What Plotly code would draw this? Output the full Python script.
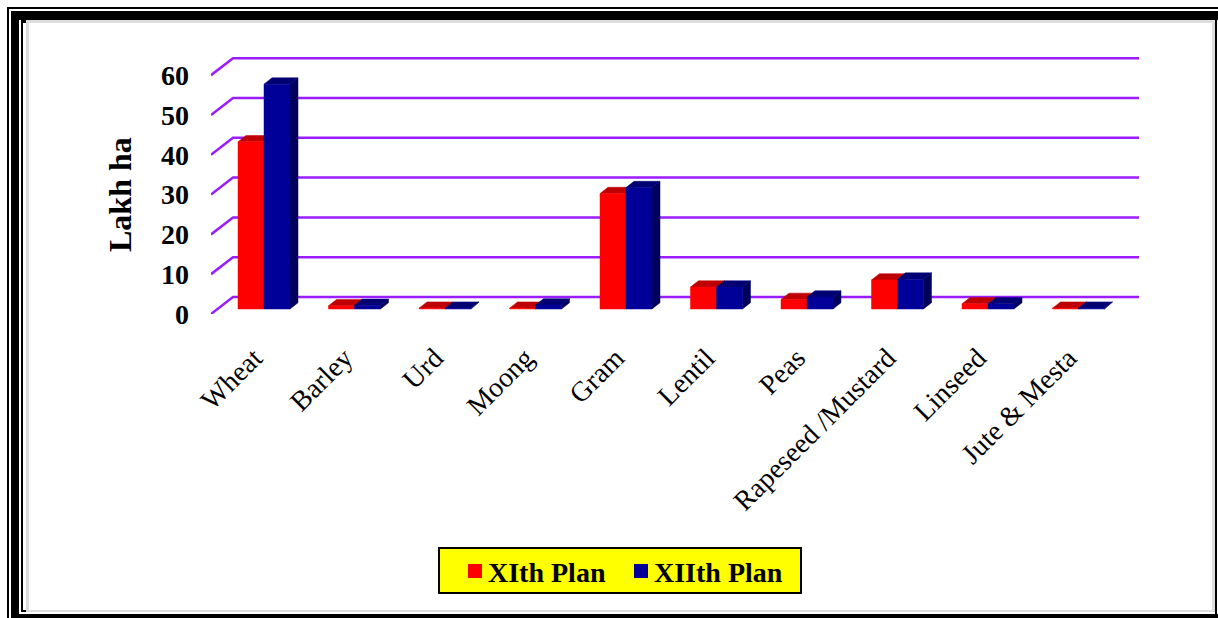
import plotly.graph_objects as go

categories = ["Wheat", "Barley", "Urd", "Moong", "Gram", "Lentil", "Peas",
              "Rapeseed /Mustard", "Linseed", "Jute & Mesta"]
xi_plan = [42, 0.8, 0.2, 0.2, 29, 5.5, 2.4, 7.3, 1.3, 0.2]
xii_plan = [56.5, 0.9, 0.2, 1.0, 30.5, 5.5, 3.0, 7.5, 1.3, 0.2]
y_ticks = [0, 10, 20, 30, 40, 50, 60]

W, H = 1218, 618
PX_PER_CAT = 90.5
PX_PER_UNIT = 3.98
AX_LEFT, AX_RIGHT, AX_TOP, AX_BOTTOM = 211, 1139, 50, 314

# Offsets of the pseudo-3D box, expressed in axis units
BAR_W = 26 / PX_PER_CAT
BAR_BASE = 5 / PX_PER_UNIT
DEPTH_X = 8 / PX_PER_CAT
DEPTH_Y = 6.3 / PX_PER_UNIT
WALL_X = 22 / PX_PER_CAT
WALL_Y = 17 / PX_PER_UNIT
LABEL_SHIFT = 10 / PX_PER_CAT

x_min = (AX_LEFT - 264) / PX_PER_CAT
x_max = (AX_RIGHT - 264) / PX_PER_CAT
y_max = (AX_BOTTOM - AX_TOP) / PX_PER_UNIT


def faces(values, offset):
    front_x, front_y, top_x, top_y, side_x, side_y = [], [], [], [], [], []
    for i, v in enumerate(values):
        l, r = i + offset, i + offset + BAR_W
        b, t = BAR_BASE, BAR_BASE + v
        front_x += [l, r, r, l, l, None]
        front_y += [b, b, t, t, b, None]
        top_x += [l, r, r + DEPTH_X, l + DEPTH_X, l, None]
        top_y += [t, t, t + DEPTH_Y, t + DEPTH_Y, t, None]
        side_x += [r, r + DEPTH_X, r + DEPTH_X, r, r, None]
        side_y += [b, b + DEPTH_Y, t + DEPTH_Y, t, b, None]
    return (front_x, front_y), (top_x, top_y), (side_x, side_y)


def polygon(xy, color, name):
    return go.Scatter(x=xy[0], y=xy[1], mode="lines", fill="toself", fillcolor=color,
                      line=dict(color=color, width=0.5), name=name,
                      showlegend=False, hoverinfo="skip")


fig = go.Figure()

# Back-wall grid lines with their slanted lead-ins
grid_x, grid_y = [], []
for v in y_ticks:
    grid_x += [x_min, x_min + WALL_X, x_max, None]
    grid_y += [v, v + WALL_Y, v + WALL_Y, None]
fig.add_trace(go.Scatter(x=grid_x, y=grid_y, mode="lines", showlegend=False, hoverinfo="skip",
                         line=dict(color="#9A1CFF", width=2.5)))

series = [
    ("XIth Plan", xi_plan, -BAR_W, "#FF0000", "#BE0000", "#990000"),
    ("XIIth Plan", xii_plan, 0, "#000099", "#000073", "#00005C"),
]
for name, values, offset, c_front, c_top, c_side in series:
    front, top, side = faces(values, offset)
    fig.add_trace(polygon(side, c_side, name))
    fig.add_trace(polygon(top, c_top, name))
    fig.add_trace(polygon(front, c_front, name))


def rect(x0, y0, x1, y1, color, **kw):
    return dict(type="rect", xref="paper", yref="paper", layer="below",
                line=kw.get("line", dict(width=0)), fillcolor=color,
                x0=x0 / W, x1=x1 / W, y0=1 - y1 / H, y1=1 - y0 / H)


# Nested page frame
shapes = [
    rect(7, 7, 1218, 618, "#000000"),
    rect(9, 9, 1218, 618, "#FFFFFF"),
    rect(11, 11, 1218, 618, "#000000"),
    rect(19, 20, 1217, 614, "#FFFFFF"),
    rect(1217, 20, 1218, 614, "#FFFFFF"),
    rect(21, 20, 26, 23, "#000000"),
    rect(21, 20, 23, 612, "#000000"),
    rect(21, 610, 26, 612, "#000000"),
    rect(1215, 20, 1217, 614, "#000000"),
    rect(26, 20, 1215, 612, "#DDDDDD"),
    rect(29, 23, 1212, 610, "#FFFFFF"),
]

# Key box below the chart
key_font = dict(size=28, weight="bold")
key_y = 1 - 572 / H
shapes.append(rect(439, 548, 801, 593, "#FFFF00", line=dict(color="black", width=2)))
shapes.append(rect(468, 564, 482, 578, series[0][3]))
shapes.append(rect(634, 564, 648, 578, series[1][3]))

annotations = [
    dict(text="<b>Lakh ha</b>", xref="paper", yref="paper",
         x=120 / W, y=1 - 195 / H, xanchor="center", yanchor="middle",
         textangle=-90, showarrow=False, font=dict(size=32)),
    dict(text=series[0][0], xref="paper", yref="paper", x=486 / W, y=key_y,
         xanchor="left", yanchor="middle", showarrow=False, font=key_font),
    dict(text=series[1][0], xref="paper", yref="paper", x=652 / W, y=key_y,
         xanchor="left", yanchor="middle", showarrow=False, font=key_font),
]

fig.update_layout(
    width=W, height=H, autosize=False,
    margin=dict(l=0, r=0, t=0, b=0, autoexpand=False),
    paper_bgcolor="white", plot_bgcolor="rgba(0,0,0,0)",
    showlegend=False,
    shapes=shapes,
    font=dict(family="Liberation Serif", color="black"),
    xaxis=dict(domain=[AX_LEFT / W, AX_RIGHT / W], range=[x_min, x_max],
               showgrid=False, zeroline=False, showline=False,
               tickmode="array",
               tickvals=[i - LABEL_SHIFT for i in range(len(categories))],
               ticktext=categories,
               tickangle=-45, tickfont=dict(size=28), ticks="", ticklabelstandoff=21),
    yaxis=dict(domain=[1 - AX_BOTTOM / H, 1 - AX_TOP / H], range=[0, y_max],
               showgrid=False, zeroline=False, showline=False,
               tickmode="array", tickvals=y_ticks,
               tickfont=dict(size=28, family="Liberation Serif", weight="bold"),
               ticks="", ticklabelstandoff=21),
    annotations=annotations,
)

fig.write_html("out.html")
